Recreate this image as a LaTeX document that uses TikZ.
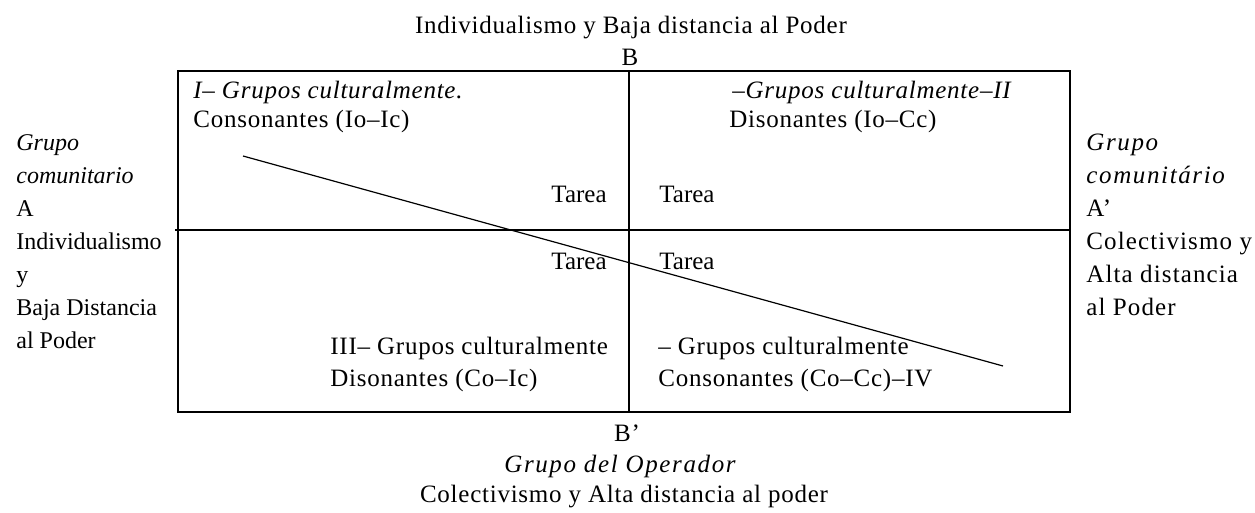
\documentclass[tikz,border=0pt]{standalone}
\usepackage{fontspec}
\setmainfont{Liberation Serif}
\newfontfamily\spaced[Ligatures=TeX,LetterSpace=3]{Liberation Serif}
\newfontfamily\spacedR[Ligatures=TeX,LetterSpace=4.5]{Liberation Serif}
\newfontfamily\wider[Ligatures=TeX,LetterSpace=6.5]{Liberation Serif}

\begin{document}
\begin{tikzpicture}[x=0.5pt,y=-0.5pt,inner sep=0pt]
        \tikzstyle{lbl}=[font=\spaced\fontsize{12.5}{15}\selectfont]
        \tikzstyle{tarea}=[font=\fontsize{12.5}{15}\selectfont]
        \tikzstyle{side}=[font=\fontsize{12}{15}\selectfont,anchor=base west]
        \tikzstyle{rside}=[font=\spacedR\fontsize{12.5}{15}\selectfont,anchor=base west]
        \tikzstyle{rule}=[line width=0.75pt]

        \useasboundingbox (0,0) rectangle (1255,513);

        % cuadro
        \coordinate (NW) at (178,71);
        \coordinate (SE) at (1070,412);
        \coordinate (M1) at (629,71);
        \coordinate (M2) at (629,412);
        \coordinate (H1) at (175,230);
        \coordinate (H2) at (1070,230);
        \draw[rule] (NW) rectangle (SE);
        \draw[rule] (M1) -- (M2);
        \draw[rule] (H1) -- (H2);

        % arriba y abajo
        \node[lbl,anchor=base] (E01) at (631,34)  {Individualismo y Baja distancia al Poder};
        \node[lbl,anchor=base] (E02) at (630,66)  {B};
        \node[lbl,anchor=base] (E03) at (627,442) {B’};
        \node[lbl,anchor=base] (E04) at (620,473) {\wider\itshape Grupo del Operador};
        \node[lbl,anchor=base] (E05) at (624,503) {Colectivismo y Alta distancia al poder};

        % cuadrantes
        \node[lbl,anchor=base west] (G01) at (193,99)  {\textit{I-- Grupos culturalmente.}};
        \node[lbl,anchor=base west] (G02) at (193,128) {Consonantes (Io--Ic)};
        \node[lbl,anchor=base west] (G03) at (732,99)  {\textit{--Grupos culturalmente--II}};
        \node[lbl,anchor=base west] (G04) at (729,128) {Disonantes (Io--Cc)};
        \node[lbl,anchor=base west] (G05) at (330,355) {III-- Grupos culturalmente};
        \node[lbl,anchor=base west] (G06) at (330,387) {Disonantes (Co--Ic)};
        \node[lbl,anchor=base west] (G07) at (658,355) {-- Grupos culturalmente};
        \node[lbl,anchor=base west] (G08) at (658,387) {Consonantes (Co--Cc)--IV};

        \node[tarea,anchor=base east] (T01) at (607,203) {Tarea};
        \node[tarea,anchor=base east] (T02) at (607,270) {Tarea};
        \node[tarea,anchor=base west] (T03) at (659,203) {Tarea};
        \node[tarea,anchor=base west] (T04) at (659,270) {Tarea};

        % lados
        \foreach \txt [count=\i] in {\textit{Grupo},\textit{comunitario},A,Individualismo,y,Baja Distancia,al Poder}
          \node[side] (L0\i) at (16,118+33*\i) {\txt};
        \foreach \txt [count=\i] in {{\wider\itshape Grupo},{\wider\itshape comunitário},A’,Colectivismo y,Alta distancia,al Poder}
          \node[rside] (R0\i) at (1086,118+33*\i) {\txt};

        % diagonal
        \coordinate (D01) at (243,156);
        \coordinate (D02) at (1003,366);
        \draw[line width=0.6pt] (D01) -- (D02);
\end{tikzpicture}
\end{document}
